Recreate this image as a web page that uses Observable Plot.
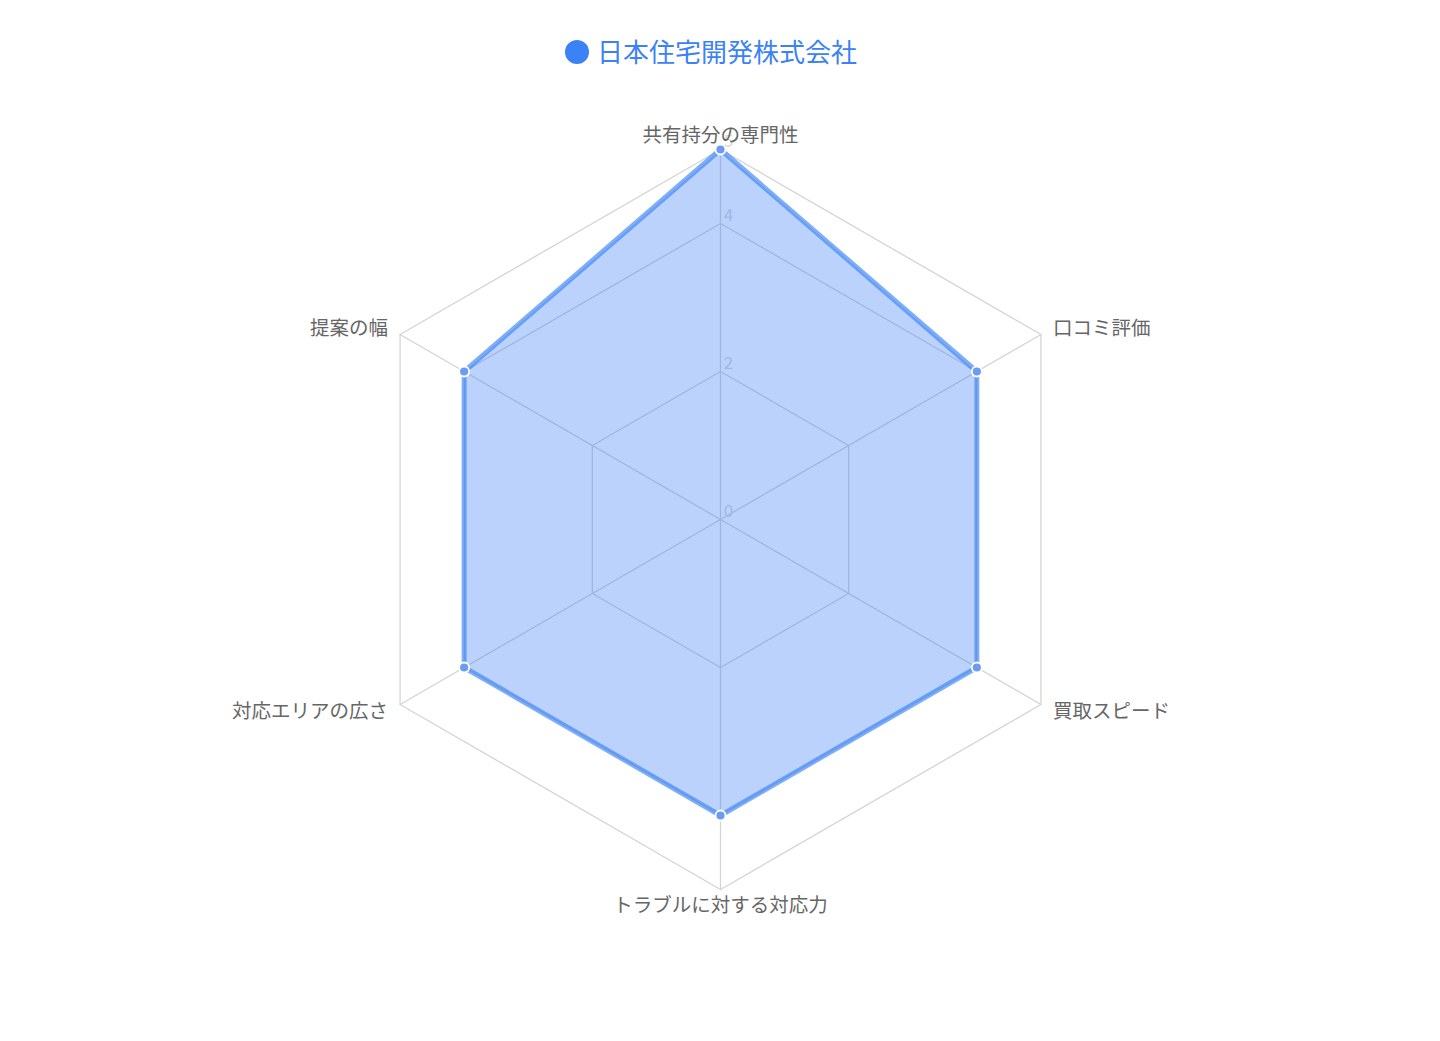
<!DOCTYPE html>
<html><head><meta charset="utf-8">
<script src="https://cdn.jsdelivr.net/npm/d3@7"></script>
<script src="https://cdn.jsdelivr.net/npm/@observablehq/plot@0.6"></script>
<style>
html,body{margin:0;padding:0;background:#fff;font-family:"Noto Sans CJK JP","Noto Sans",sans-serif;}
#title{height:100px;display:flex;align-items:flex-start;justify-content:center;box-sizing:border-box;}
#title span.t{margin-top:33px;margin-left:-18px;font-size:26px;color:#3b82f6;display:flex;align-items:center;line-height:36px;}
#title span.dot{display:inline-block;width:24px;height:24px;border-radius:50%;background:#3b82f6;margin-right:8px;margin-top:2px;}
</style></head>
<body>
<div id="title"><span class="t"><span class="dot"></span>日本住宅開発株式会社</span></div>
<div id="chart"></div>
<script>
const categories = ["共有持分の専門性","口コミ評価","買取スピード","トラブルに対する対応力","対応エリアの広さ","提案の幅"];
const values = [5, 4, 4, 4, 4, 4];
const seriesName = "日本住宅開発株式会社";
const gridLevels = [2, 4, 5];
const tickLabels = [0, 2, 4, 5];
const maxValue = 5;

const n = categories.length;
const ang = i => (2 * Math.PI * i) / n;
const pol = (r, i) => ({x: r * Math.sin(ang(i)), y: r * Math.cos(ang(i))});

const dataPts = values.map((v, i) => ({...pol(v, i), cat: categories[i], v}));
const gridPts = gridLevels.flatMap(l => categories.map((c, i) => ({...pol(l, i), level: l})));
const spokes = categories.flatMap((c, i) => [{...pol(0, i), c}, {...pol(maxValue, i), c}]);
const labelPts = categories.map((c, i) => {
  const p = pol(maxValue, i);
  const s = Math.sin(ang(i)), co = Math.cos(ang(i));
  return {...p, c, s, co};
});
const ticks = tickLabels.map(t => ({x: 0, y: t, t}));

const unit = 74; // px per value unit
const W = 1440, H = 941, cy = 419;
const fs = 19.5;
const chart = Plot.plot({
  width: W, height: H,
  marginTop: 0, marginBottom: 0, marginLeft: 0, marginRight: 0,
  x: {domain: [-(W/2)/unit, (W/2)/unit], axis: null},
  y: {domain: [-(H - cy)/unit, cy/unit], axis: null},
  style: {fontFamily: '"Noto Sans CJK JP","Noto Sans",sans-serif', background: "#fff"},
  marks: [
    Plot.line(gridPts, {x: "x", y: "y", z: "level", curve: "linear-closed", stroke: "#d4d4d4", strokeWidth: 1.3}),
    Plot.line(spokes, {x: "x", y: "y", z: "c", stroke: "#d4d4d4", strokeWidth: 1.3}),
    Plot.text(ticks, {x: "x", y: "y", text: d => String(d.t), dx: 8, dy: -8, fill: "#d6d6d6", fontSize: 17}),
    Plot.line(dataPts, {x: "x", y: "y", curve: "linear-closed", fill: "rgba(59,130,246,0.35)", stroke: "none"}),
    Plot.line(dataPts, {x: "x", y: "y", curve: "linear-closed", stroke: "rgba(59,130,246,0.65)", strokeWidth: 5, strokeLinejoin: "miter"}),
    Plot.dot(dataPts, {x: "x", y: "y", r: 5, fill: "#6a9cf3", stroke: "#fff", strokeWidth: 1.8}),
    Plot.text(labelPts.filter(d => Math.abs(d.s) < 0.01 && d.co > 0), {x: "x", y: "y", text: "c", dy: -14, fill: "#666", fontSize: fs, textAnchor: "middle"}),
    Plot.text(labelPts.filter(d => Math.abs(d.s) < 0.01 && d.co < 0), {x: "x", y: "y", text: "c", dy: 16, fill: "#666", fontSize: fs, textAnchor: "middle"}),
    Plot.text(labelPts.filter(d => d.s > 0.01 && d.co > 0), {x: "x", y: "y", text: "c", dx: 12, dy: -6, fill: "#666", fontSize: fs, textAnchor: "start"}),
    Plot.text(labelPts.filter(d => d.s > 0.01 && d.co < 0), {x: "x", y: "y", text: "c", dx: 12, dy: 7, fill: "#666", fontSize: fs, textAnchor: "start"}),
    Plot.text(labelPts.filter(d => d.s < -0.01 && d.co > 0), {x: "x", y: "y", text: "c", dx: -12, dy: -6, fill: "#666", fontSize: fs, textAnchor: "end"}),
    Plot.text(labelPts.filter(d => d.s < -0.01 && d.co < 0), {x: "x", y: "y", text: "c", dx: -12, dy: 7, fill: "#666", fontSize: fs, textAnchor: "end"})
  ]
});
document.getElementById("chart").appendChild(chart);
</script>
</body></html>
